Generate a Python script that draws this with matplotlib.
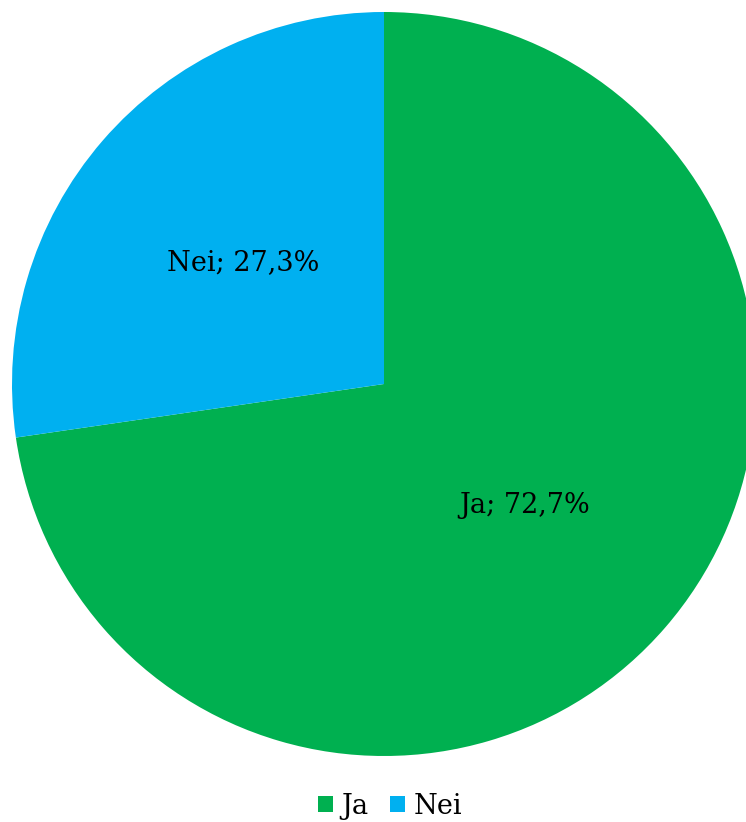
import matplotlib
matplotlib.use("Agg")
import matplotlib.pyplot as plt
from matplotlib.patches import Patch

categories = ["Ja", "Nei"]
values = [72.7, 27.3]
colors = ["#00B050", "#00B0F0"]
labels = ["Ja; 72,7%", "Nei; 27,3%"]

W, H = 746, 822
cx, cy, R = 384, 384, 372

fig = plt.figure(figsize=(W / 100, H / 100), dpi=100)
ax = fig.add_axes([0, 0, 1, 1])
wedges, texts = ax.pie(values, colors=colors, labels=labels, startangle=90,
                       counterclock=False, labeldistance=0.5,
                       textprops=dict(fontsize=19.5, family="DejaVu Serif", ha="center", va="center"),
                       wedgeprops=dict(linewidth=0))
ax.set_xlim(-cx / R, (W - cx) / R)
ax.set_ylim(-(H - cy) / R, cy / R)
ax.set_aspect("auto")
ax.axis("off")

handles = [Patch(facecolor=c, edgecolor="none", label=n) for c, n in zip(colors, categories)]
fig.legend(handles=handles, loc="center", bbox_to_anchor=(390 / W, 1 - 806 / H), ncol=2,
           frameon=False, prop=dict(family="DejaVu Serif", size=19.5),
           handlelength=0.56, handleheight=0.56, handletextpad=0.3, columnspacing=0.8)

fig.savefig("out.png", dpi=100)
